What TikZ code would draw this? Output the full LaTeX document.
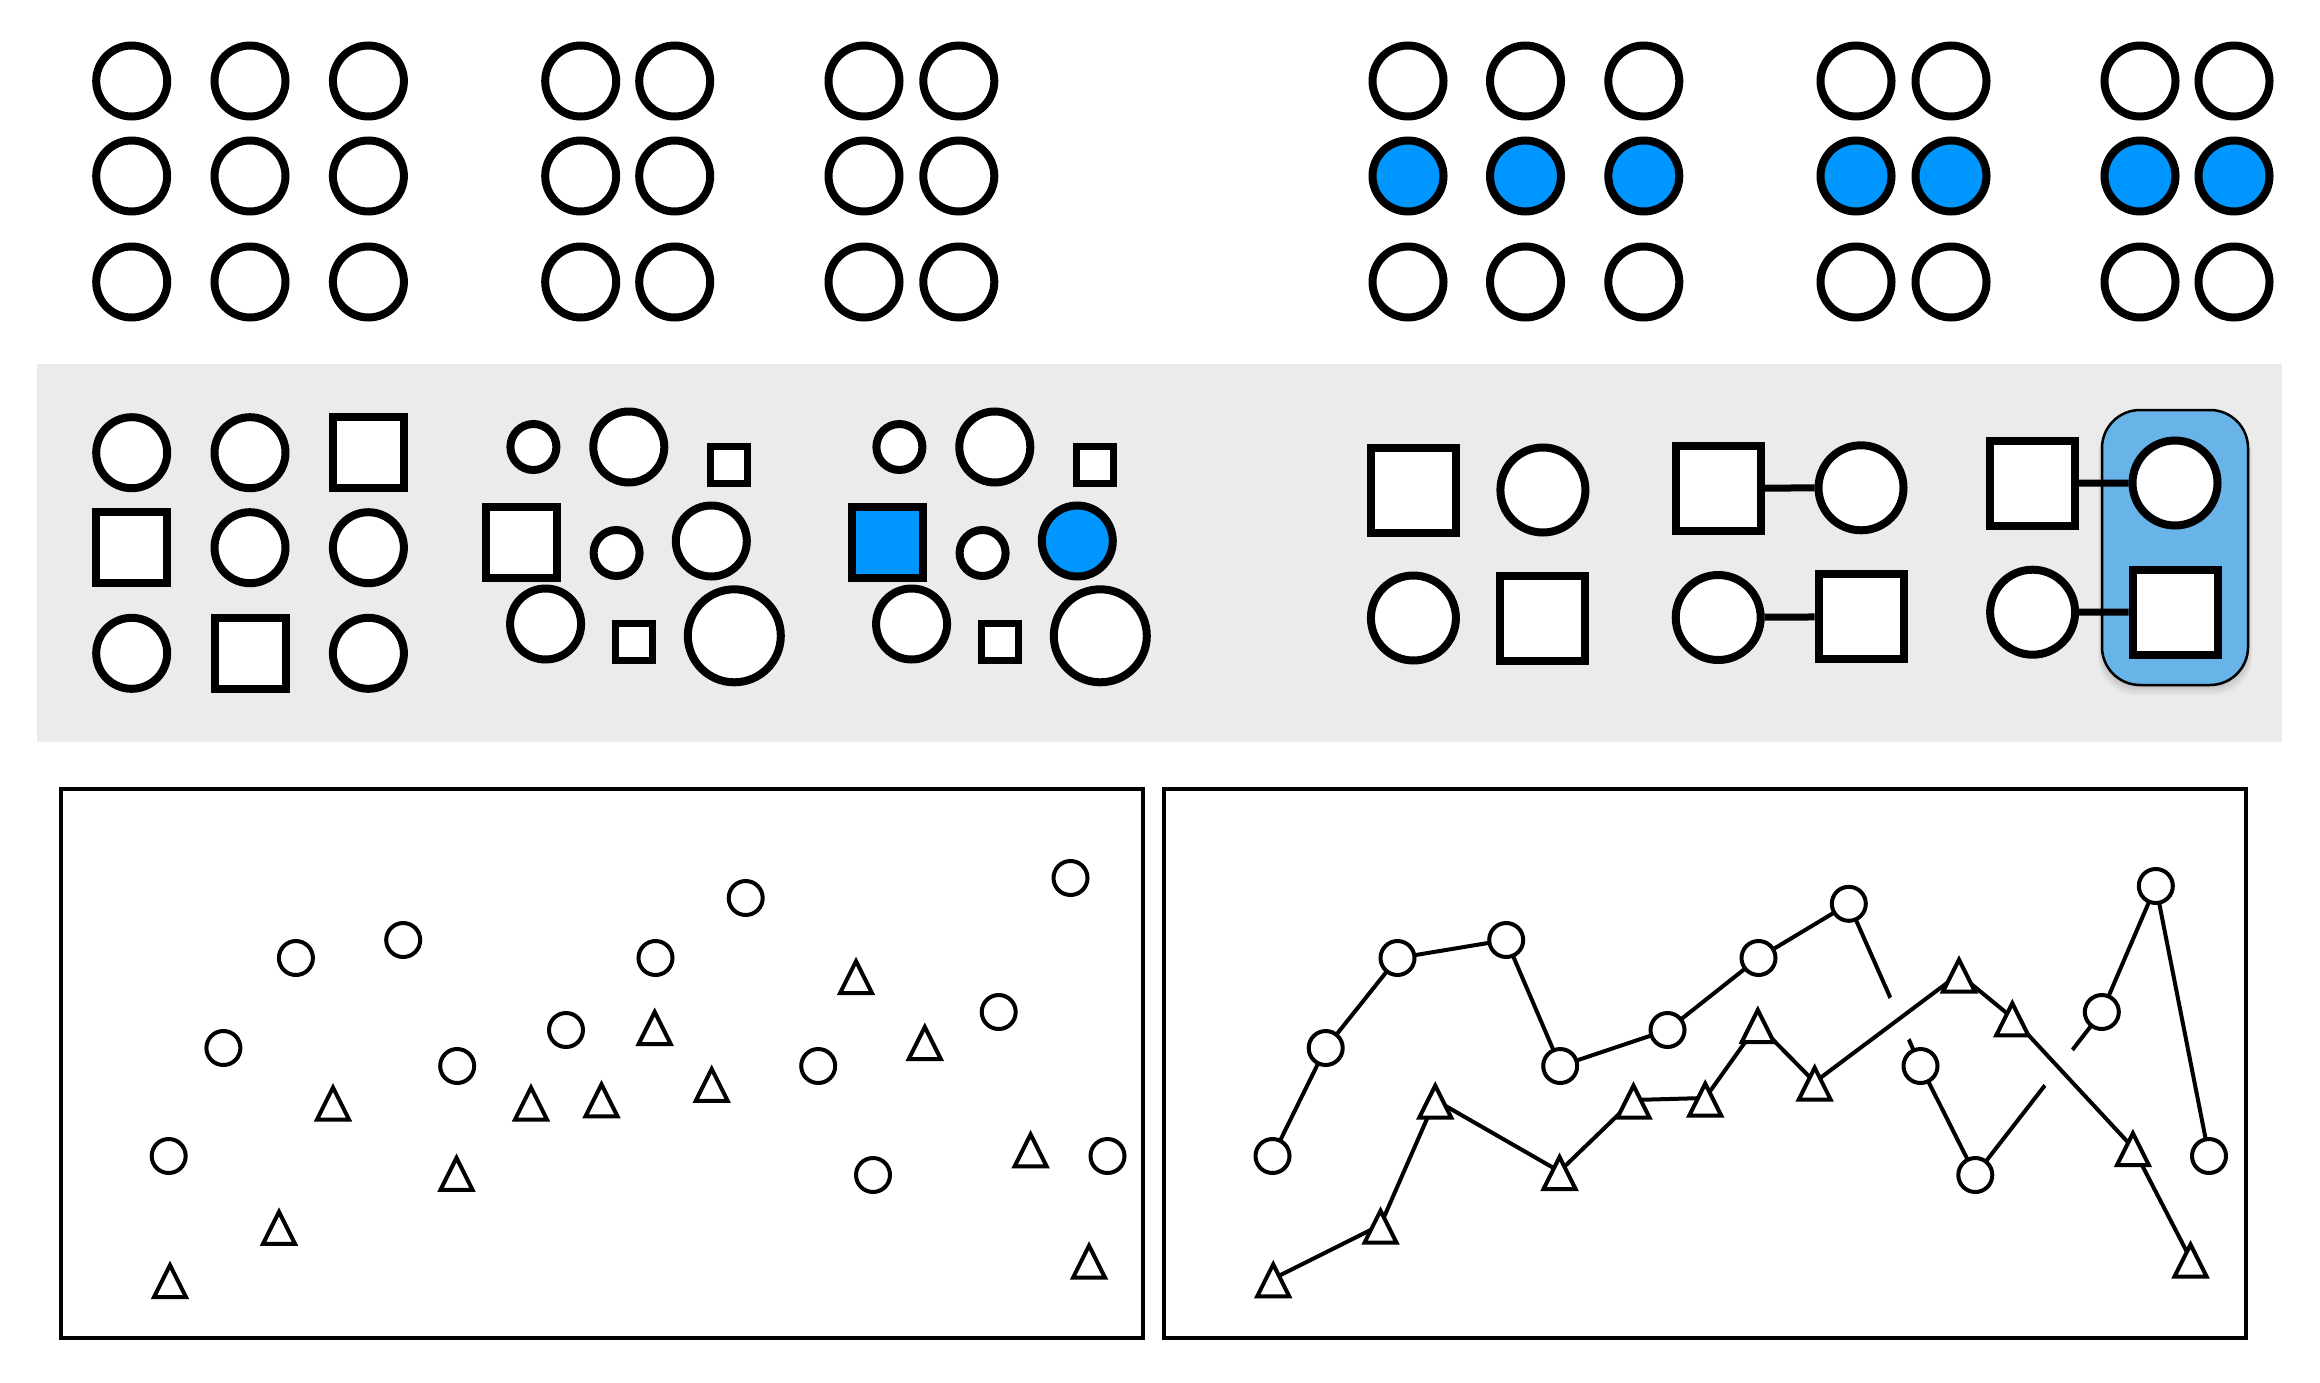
\documentclass[tikz,border=0pt]{standalone}
\usetikzlibrary{shapes.geometric,calc}
\definecolor{band}{HTML}{EBEBEB}
\definecolor{hot}{HTML}{0096FF}
\definecolor{soft}{HTML}{68B4E8}
\pgfdeclarelayer{back}
\pgfdeclarelayer{mid}
\pgfsetlayers{back,mid,main}
\begin{document}
\begin{tikzpicture}[x=1pt,y=-1pt,
  bigc/.style={circle,draw,line width=8pt,fill=white,inner sep=0pt,minimum size=71pt},
  bigs/.style={rectangle,draw,line width=8pt,fill=white,inner sep=0pt,minimum size=71pt},
  smc/.style={bigc,minimum size=46pt},
  sms/.style={bigs,line width=7pt,minimum size=37pt},
  lgc/.style={bigc,minimum size=93pt},
  hc/.style={bigc,minimum size=85pt},
  hs/.style={bigs,minimum size=85pt},
  sel/.style={fill=hot},
  conn/.style={line width=7pt},
  dot/.style={circle,draw,line width=4pt,fill=white,inner sep=0pt,minimum size=34pt},
  tri/.style={isosceles triangle,isosceles triangle stretches,shape border rotate=90,
    draw,line width=4pt,fill=white,inner sep=0pt,minimum width=32pt,minimum height=32pt,
    anchor=lower side},
  link/.style={line width=4pt},
  casing/.style={line width=44pt,white},
  frame/.style={draw,line width=4pt}]
\useasboundingbox (0,0) rectangle (2320,1383);
\begin{pgfonlayer}{back}
  \fill[white] (0,0) rectangle (2320,1383);
  \fill[band] (37,364) rectangle (2282,742);
  \foreach \k/\o in {1/0.05,2/0.05,3/0.04,4/0.03}
    \fill[black,opacity=\o,rounded corners=38pt] (2102-\k,410+\k*2) rectangle (2248+\k,685+\k*2.5);
  \draw[fill=soft,line width=2.5pt,rounded corners=38pt] (2102,410) rectangle (2248,685);
  \draw[frame] (60.7,789) rectangle (1143,1338);
  \draw[frame] (1164,789) rectangle (2246,1338);
\end{pgfonlayer}
% top row
\foreach \x [count=\i] in {131.7,250,368.4,580.7,674.7,864,958.8}
  \foreach \y [count=\j] in {81,176,282}
    \node[bigc] (a\i-\j) at (\x,\y) {};
\foreach \x [count=\i] in {1408,1525.5,1643.8,1856,1951,2140,2234}
  {\node[bigc] (b\i-1) at (\x,81) {};
   \node[bigc,sel] (b\i-2) at (\x,176) {};
   \node[bigc] (b\i-3) at (\x,282) {};}
% middle: group A
\node[bigc] (m11) at (131.7,452.7) {};
\node[bigc] (m12) at (250,452.7) {};
\node[bigs] (m13) at (368.4,452.7) {};
\node[bigs] (m21) at (131.7,547.7) {};
\node[bigc] (m22) at (250,547.7) {};
\node[bigc] (m23) at (368.4,547.7) {};
\node[bigc] (m31) at (131.7,653.3) {};
\node[bigs] (m32) at (250,653.3) {};
\node[bigc] (m33) at (368.4,653.3) {};
% groups B and C
\foreach \o/\g/\f in {0/p/white,366/q/hot}
{
  \node[smc] (\g1) at (533.4+\o,447) {};
  \node[bigc] (\g2) at (628.8+\o,447) {};
  \node[sms] (\g3) at (728.7+\o,465) {};
  \node[bigs,fill=\f] (\g4) at (521.6+\o,542) {};
  \node[smc] (\g5) at (616.6+\o,553) {};
  \node[bigc,fill=\f] (\g6) at (711.3+\o,541) {};
  \node[bigc] (\g7) at (545.6+\o,624) {};
  \node[sms] (\g8) at (634+\o,641.7) {};
  \node[lgc] (\g9) at (734.3+\o,635.8) {};
}
% groups D, E, F
\node[hs] (d1) at (1413.4,490.3) {};
\node[hc] (d2) at (1542.9,490) {};
\node[hc] (d3) at (1413.4,618) {};
\node[hs] (d4) at (1542.9,618.3) {};
\node[hs] (e1) at (1718.2,488.2) {};
\node[hc] (e2) at (1861,487.8) {};
\node[hc] (e3) at (1718.2,617.5) {};
\node[hs] (e4) at (1861,616.7) {};
\node[hs] (f1) at (2032.6,483.3) {};
\node[hc] (f2) at (2175,483) {};
\node[hc] (f3) at (2032.6,612.2) {};
\node[hs] (f4) at (2175,612) {};
\begin{pgfonlayer}{mid}
  \draw[conn] (e1) -- (e2);
  \draw[conn] (e3) -- (e4);
  \draw[conn] (f1) -- (f2);
  \draw[conn] (f3) -- (f4);
\end{pgfonlayer}
% bottom left panel
\foreach \x/\y [count=\i] in {295.9/958,403.2/940,745.7/898,1070.5/878,655.5/958,223.4/1048,566/1030,457.2/1066,818.2/1066,998.7/1012,168.7/1156,873/1175,1107.5/1156}
  \node[dot] (l\i) at (\x,\y) {};
\foreach \x/\y [count=\i] in {856/995.2,654.7/1046,924.8/1061,333/1121.5,531/1121.5,601.5/1118.4,711.7/1102.9,456.5/1191.9,1030.6/1168.4,279/1245.9,170/1299.1,1089/1279.7}
  \node[tri] (lt\i) at (\x,\y) {};
% bottom right panel
\foreach \x/\y [count=\i] in {1272.5/1156,1325.7/1048,1397.5/958,1506.2/940,1560.2/1066,1667.5/1030,1758.5/958,1848.8/903.8,1920.5/1066,1975.3/1175,2101.8/1012,2155.8/886,2209/1156}
  \node[dot] (c\i) at (\x,\y) {};
\foreach \x/\y [count=\i] in {1273.2/1298.3,1380.5/1244.7,1435.2/1119.6,1559.5/1191,1633.5/1119.6,1705.2/1117.6,1757.8/1044,1814.7/1101.7,1959/993.6,2012.3/1037.3,2132.9/1167.2,2190.5/1278.5}
  \node[tri] (r\i) at (\x,\y) {};
\foreach \i in {1,...,12}
  \coordinate (rm\i) at ($(r\i.apex)!0.5!(r\i.lower side)$);
\begin{pgfonlayer}{mid}
  \draw[link] (c1.center) -- (c2.center) -- (c3.center) -- (c4.center) -- (c5.center) -- (c6.center) -- (c7.center) -- (c8.center) -- (c9.center) -- (c10.center) -- (c11.center) -- (c12.center) -- (c13.center);
  \draw[casing] (rm1) -- (rm2) -- (rm3) -- (rm4) -- (rm5) -- (rm6) -- (rm7) -- (rm8) -- (rm9) -- (rm10) -- (rm11) -- (rm12);
  \draw[link] (rm1) -- (rm2) -- (rm3) -- (rm4) -- (rm5) -- (rm6) -- (rm7) -- (rm8) -- (rm9) -- (rm10) -- (rm11) -- (rm12);
\end{pgfonlayer}
\end{tikzpicture}
\end{document}
